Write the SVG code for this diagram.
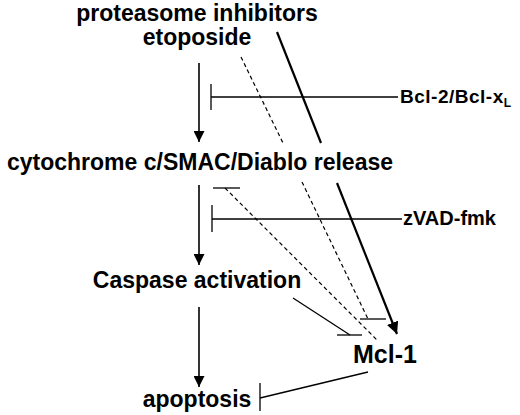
<svg xmlns="http://www.w3.org/2000/svg" width="520" height="415" viewBox="0 0 520 415">
<defs>
<style>
text{font-family:"Liberation Sans",Arial,sans-serif;font-weight:bold;fill:#000}
.big{font-size:23px;text-anchor:middle}
.ln{stroke:#000;stroke-width:1.3;fill:none}
.ax{stroke:#000;stroke-width:1.6;fill:none}
.th{stroke:#000;stroke-width:2.2;fill:none}
.ds{stroke:#000;stroke-width:1.2;stroke-dasharray:4 3;fill:none}
</style>
<marker id="ah" viewBox="0 0 10 10" refX="10" refY="5" markerWidth="11" markerHeight="11" markerUnits="userSpaceOnUse" orient="auto"><path d="M0,0L10,5L0,10z" fill="#000"/></marker>
<marker id="ah2" viewBox="0 0 10 10" refX="10" refY="5" markerWidth="12" markerHeight="12" markerUnits="userSpaceOnUse" orient="auto"><path d="M0,0L10,5L0,10z" fill="#000"/></marker>
</defs>
<rect width="520" height="415" fill="#fff"/>
<g id="connectors">
<line class="ax" x1="199" y1="63" x2="199" y2="142" marker-end="url(#ah)"/>
<line class="ax" x1="199" y1="185" x2="199" y2="265" marker-end="url(#ah)"/>
<line class="ax" x1="199" y1="307" x2="199" y2="387" marker-end="url(#ah)"/>
<line class="ln" x1="211" y1="97" x2="398" y2="97"/>
<line class="ln" x1="211" y1="84" x2="211" y2="110"/>
<line class="ln" x1="212" y1="219" x2="402" y2="219"/>
<line class="ln" x1="212" y1="205" x2="212" y2="232"/>
<line class="th" x1="277" y1="32" x2="321" y2="143"/>
<line class="th" x1="337" y1="183" x2="397" y2="334" marker-end="url(#ah2)"/>
<line class="ds" x1="241" y1="57" x2="283" y2="143"/>
<line class="ds" x1="302" y1="182" x2="368" y2="319"/>
<line class="ln" x1="360" y1="319" x2="386" y2="319"/>
<line class="ds" x1="225" y1="188" x2="377" y2="340"/>
<line class="ln" x1="213" y1="188" x2="240" y2="188"/>
<line class="ln" x1="293" y1="298" x2="350" y2="335"/>
<line class="ln" x1="337" y1="335" x2="362" y2="335"/>
<line class="ln" x1="368" y1="372" x2="260" y2="398"/>
<line class="ln" x1="260" y1="383" x2="260" y2="411"/>
</g>
<g id="proteasome"><text class="big" x="197" y="21">proteasome inhibitors</text></g>
<g id="etoposide"><text class="big" x="197" y="45">etoposide</text></g>
<g id="cytochrome"><text class="big" x="200" y="170">cytochrome c/SMAC/Diablo release</text></g>
<g id="caspase"><text class="big" x="197" y="288">Caspase activation</text></g>
<g id="apoptosis"><text class="big" x="197" y="407">apoptosis</text></g>
<g id="mcl1"><text x="353" y="363" style="font-size:25px">Mcl-1</text></g>
<g id="bcl2"><text x="400" y="103" style="font-size:19px;letter-spacing:0.5px">Bcl-2/Bcl-x<tspan font-size="12" dy="4">L</tspan></text></g>
<g id="zvad"><text x="403" y="225" style="font-size:20px">zVAD-fmk</text></g>
</svg>
